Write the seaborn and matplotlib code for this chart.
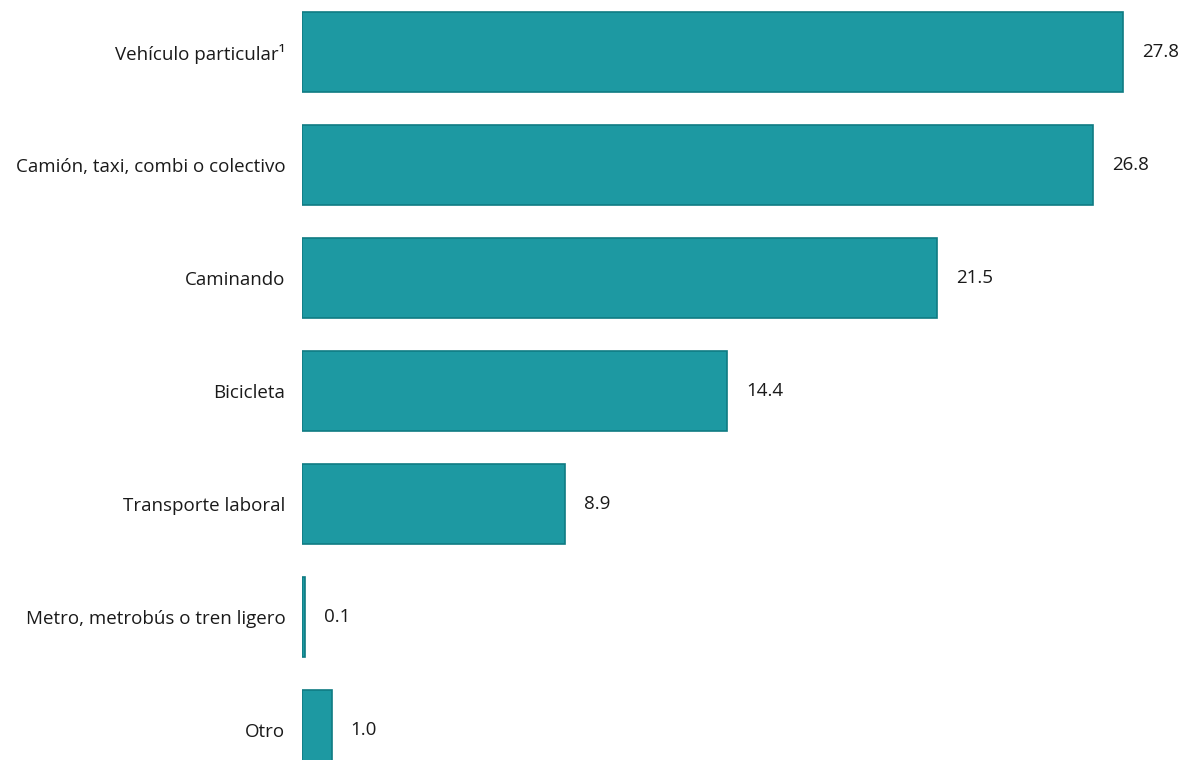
import matplotlib
matplotlib.use("Agg")
import matplotlib.pyplot as plt
import seaborn as sns
import pandas as pd

# data (percent)
categories = ["Vehículo particular¹", "Camión, taxi, combi o colectivo", "Caminando",
              "Bicicleta", "Transporte laboral", "Metro, metrobús o tren ligero", "Otro"]
values = [27.8, 26.8, 21.5, 14.4, 8.9, 0.1, 1.0]
value_labels = ["27.8", "26.8", "21.5", "14.4", "8.9", "0.1", "1.0"]

df = pd.DataFrame({"modo": categories, "pct": values})

sns.set_style("white")
plt.rcParams['font.family'] = ['Open Sans', 'DejaVu Sans']

fig = plt.figure(figsize=(11.84, 7.6), dpi=100)
ax = fig.add_axes([302 / 1184, 0, 1 - 302 / 1184, 1])

sns.barplot(data=df, x="pct", y="modo", orient="h", color="#1d99a2",
            saturation=1, width=0.70, edgecolor="#0f7b83", linewidth=1.2, ax=ax)

# value labels right of each bar
for i, v in enumerate(values):
    ax.text(v + 0.65, i, value_labels[i], va="center", ha="left",
            fontsize=13.5, color="#1a1a1a")

ax.set_xlim(0, 29.87)
ax.set_ylim(6.265, -0.46)
ax.set_xlabel("")
ax.set_ylabel("")
ax.set_xticks([])
ax.tick_params(axis="y", length=0, pad=12, labelsize=13.5, labelcolor="#1a1a1a")
for s in ax.spines.values():
    s.set_visible(False)

fig.savefig("out.png", dpi=100, facecolor="white")
